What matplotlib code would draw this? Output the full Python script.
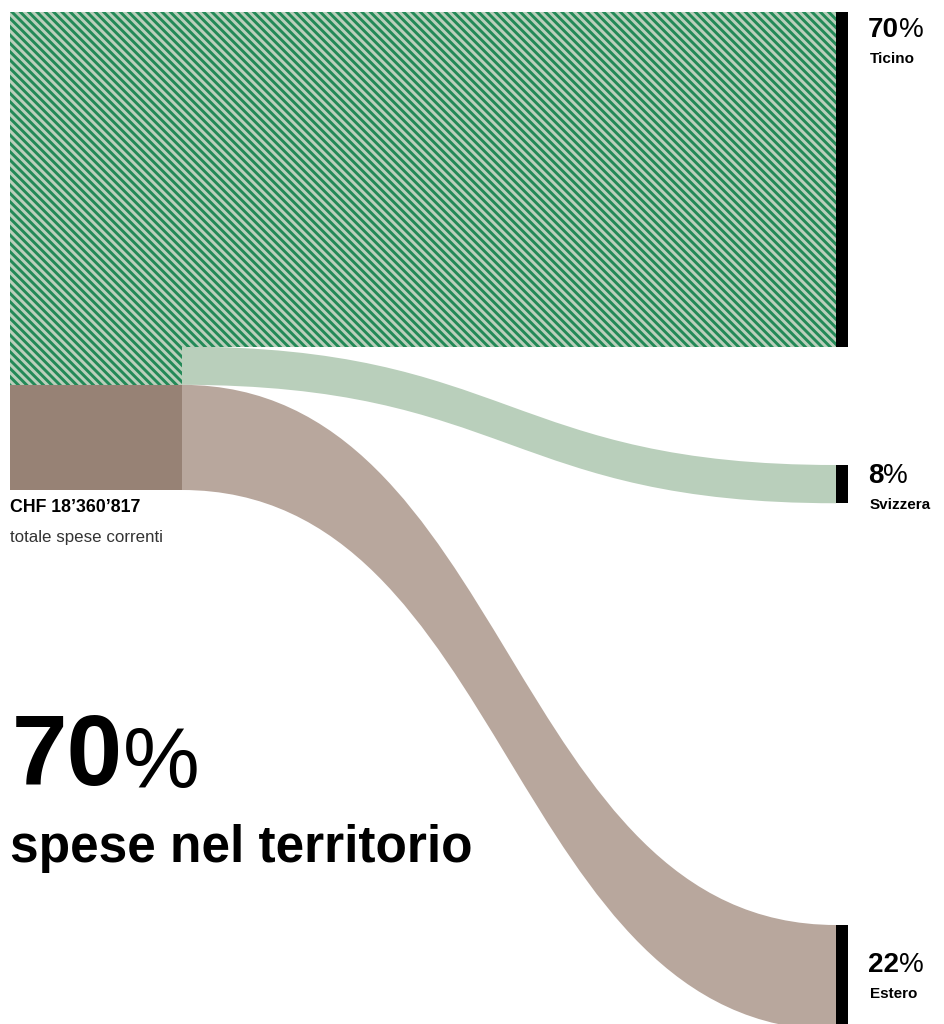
import numpy as np
import matplotlib
matplotlib.use('Agg')
from matplotlib import pyplot as plt
from matplotlib.patches import Rectangle, PathPatch
from matplotlib.path import Path

# data
labels = ['Ticino', 'Svizzera', 'Estero']
shares = [70, 8, 22]          # percent of current spending
total_label = "CHF 18’360’817"
total_sub = 'totale spese correnti'
headline_pct = 70
headline_txt = 'spese nel territorio'

# colours
DARK_GREEN = '#238957'
LIGHT_GREEN = '#b9cfbb'
DARK_BROWN = '#978275'
LIGHT_BROWN = '#b8a79d'

plt.rcParams['font.family'] = ['Liberation Sans', 'DejaVu Sans']
plt.rcParams['hatch.linewidth'] = 2.1

fig = plt.figure(figsize=(9.44, 10.24), dpi=100)
ax = fig.add_axes([0, 0, 1, 1])
ax.set_xlim(0, 944)
ax.set_ylim(1024, 0)
ax.axis('off')

# layout (pixels)
src_x0, src_x1 = 10, 182
tgt_x0, tgt_x1 = 836, 848
top = 12
node_h = 478
tgt_tops = [top, 465, 925]
label_mid = [40, 486, 975]

heights = [s / 100 * node_h for s in shares]
src_tops = np.concatenate([[top], top + np.cumsum(heights)[:-1]])

HATCH = '\\' * 4


def ribbon(x0, x1, y0t, y1t, h, color):
    xm = (x0 + x1) / 2
    verts = [(x0, y0t), (xm, y0t), (xm, y1t), (x1, y1t),
             (x1, y1t + h),
             (xm, y1t + h), (xm, y0t + h), (x0, y0t + h),
             (x0, y0t)]
    codes = [Path.MOVETO, Path.CURVE4, Path.CURVE4, Path.CURVE4,
             Path.LINETO,
             Path.CURVE4, Path.CURVE4, Path.CURVE4,
             Path.CLOSEPOLY]
    ax.add_patch(PathPatch(Path(verts, codes), facecolor=color, edgecolor='none', lw=0))


# flows out of the source node
ribbon(src_x1, tgt_x0, src_tops[1], tgt_tops[1], heights[1], LIGHT_GREEN)
ribbon(src_x1, tgt_x0, src_tops[2], tgt_tops[2], heights[2], LIGHT_BROWN)

# Ticino: hatched block straight across + hatched part of the source node
ax.add_patch(Rectangle((src_x0, top), tgt_x0 - src_x0, heights[0],
                       facecolor=LIGHT_GREEN, edgecolor=DARK_GREEN, lw=0, hatch=HATCH))
ax.add_patch(Rectangle((src_x0, src_tops[1]), src_x1 - src_x0, heights[1],
                       facecolor=LIGHT_GREEN, edgecolor=DARK_GREEN, lw=0, hatch=HATCH))
ax.add_patch(Rectangle((src_x0, src_tops[2]), src_x1 - src_x0, heights[2],
                       facecolor=DARK_BROWN, edgecolor='none', lw=0))

# target bars + labels
for lab, s, ty, h, ly in zip(labels, shares, tgt_tops, heights, label_mid):
    ax.add_patch(Rectangle((tgt_x0, ty), tgt_x1 - tgt_x0, h, facecolor='black', lw=0))
    t = ax.text(868, ly - 3, str(s), fontsize=20, fontweight='bold', ha='left', va='baseline')
    ax.annotate('%', xy=(1, 0), xycoords=t, fontsize=20, ha='left', va='bottom')
    ax.text(870, ly + 23, lab, fontsize=11, fontweight='bold', ha='left', va='baseline')

# source labels
ax.text(10, 512, total_label, fontsize=12.8, fontweight='bold', ha='left', va='baseline')
ax.text(10, 542, total_sub, fontsize=12.2, color='#333333', ha='left', va='baseline')

# headline
t = ax.text(12, 785, str(headline_pct), fontsize=72, fontweight='bold', ha='left', va='baseline')
ax.annotate('%', xy=(1, 0), xycoords=t, fontsize=62, ha='left', va='bottom')
ax.text(10, 862, headline_txt, fontsize=37, fontweight='bold', ha='left', va='baseline')

fig.savefig('out.png', dpi=100)
